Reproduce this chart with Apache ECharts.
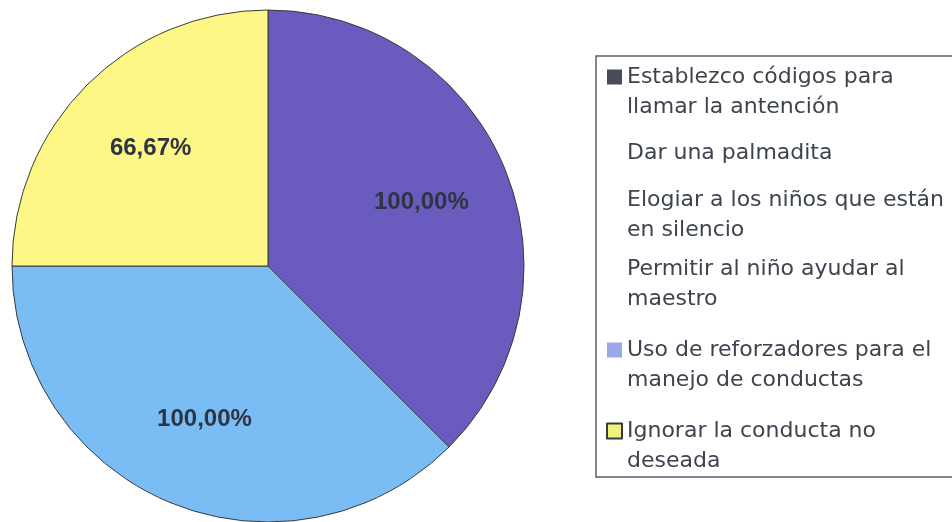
<!DOCTYPE html>
<html>
<head>
<meta charset="utf-8">
<script src="https://cdn.jsdelivr.net/npm/echarts@6/dist/echarts.min.js"></script>
<style>
  html, body { margin: 0; padding: 0; background: #fff; }
  #chart { width: 952px; height: 522px; }
</style>
</head>
<body>
<div id="chart"></div>
<script>
// categories in pie order (clockwise from 12 o'clock)
var categories = [
  'Establezco códigos para\nllamar la antención',
  'Dar una palmadita',
  'Elogiar a los niños que están\nen silencio',
  'Permitir al niño ayudar al\nmaestro',
  'Uso de reforzadores para el\nmanejo de conductas',
  'Ignorar la conducta no\ndeseada'
];
var values = [100, 0, 0, 0, 100, 66.67];
var sliceColors = ['#6a5cbf', '#ffffff', '#ffffff', '#ffffff', '#79bdf4', '#fdf785'];
var markerColors = ['#474b5a', 'rgba(0,0,0,0)', 'rgba(0,0,0,0)', 'rgba(0,0,0,0)', '#9aa8ea', '#f4f07e'];

function fmt(v) {
  return v.toFixed(2).replace('.', ',') + '%';
}

var myChart = echarts.init(document.getElementById('chart'));

var pieData = categories.map(function (name, i) {
  return {
    name: name,
    value: values[i],
    itemStyle: { color: sliceColors[i], borderWidth: values[i] > 0 ? 1 : 0 }
  };
});

// same slices again, transparent, only to place the percent labels further out
var labelData = categories.map(function (name, i) {
  return {
    name: name,
    value: values[i],
    label: { show: values[i] > 0 }
  };
});

var legendData = categories.map(function (name, i) {
  var item = {
    name: name,
    itemStyle: {
      color: markerColors[i],
      borderColor: i === 5 ? '#333a44' : 'rgba(0,0,0,0)',
      borderWidth: i === 5 ? 2 : 0
    }
  };
  // a bit more room round the "Uso de reforzadores" entry, as in the original
  if (i === 4) item.textStyle = { padding: [24, 0, 0, 0] };
  return item;
});

var option = {
  animation: false,
  backgroundColor: '#ffffff',
  legend: {
    orient: 'vertical',
    left: 596,
    top: 56,
    padding: [6, 24, 1, 10],
    itemGap: 9,
    itemWidth: 15,
    itemHeight: 45,
    // square at the top of a tall box so it lines up with the first text line
    icon: 'path://M0,0h15v15h-15zM0,45h0.01',
    symbolKeepAspect: false,
    borderColor: '#5a5f6a',
    borderWidth: 1.5,
    selectedMode: false,
    textStyle: {
      fontFamily: 'DejaVu Sans',
      fontSize: 22,
      lineHeight: 30,
      color: '#3d4450'
    },
    data: legendData
  },
  series: [
    {
      type: 'pie',
      center: [268, 266],
      radius: 256,
      startAngle: 90,
      clockwise: true,
      silent: true,
      label: { show: false },
      labelLine: { show: false },
      itemStyle: { borderColor: '#3a3a3a', borderWidth: 1 },
      data: pieData
    },
    {
      type: 'pie',
      center: [268, 266],
      radius: [70, 256],
      startAngle: 90,
      clockwise: true,
      silent: true,
      legendHoverLink: false,
      itemStyle: { color: 'rgba(0,0,0,0)', borderWidth: 0 },
      label: {
        show: true,
        position: 'inside',
        fontFamily: 'Liberation Sans',
        fontWeight: 'bold',
        fontSize: 24,
        color: '#2e3442',
        formatter: function (p) { return fmt(p.value); }
      },
      labelLine: { show: false },
      data: labelData
    }
  ]
};

myChart.setOption(option);
</script>
</body>
</html>
